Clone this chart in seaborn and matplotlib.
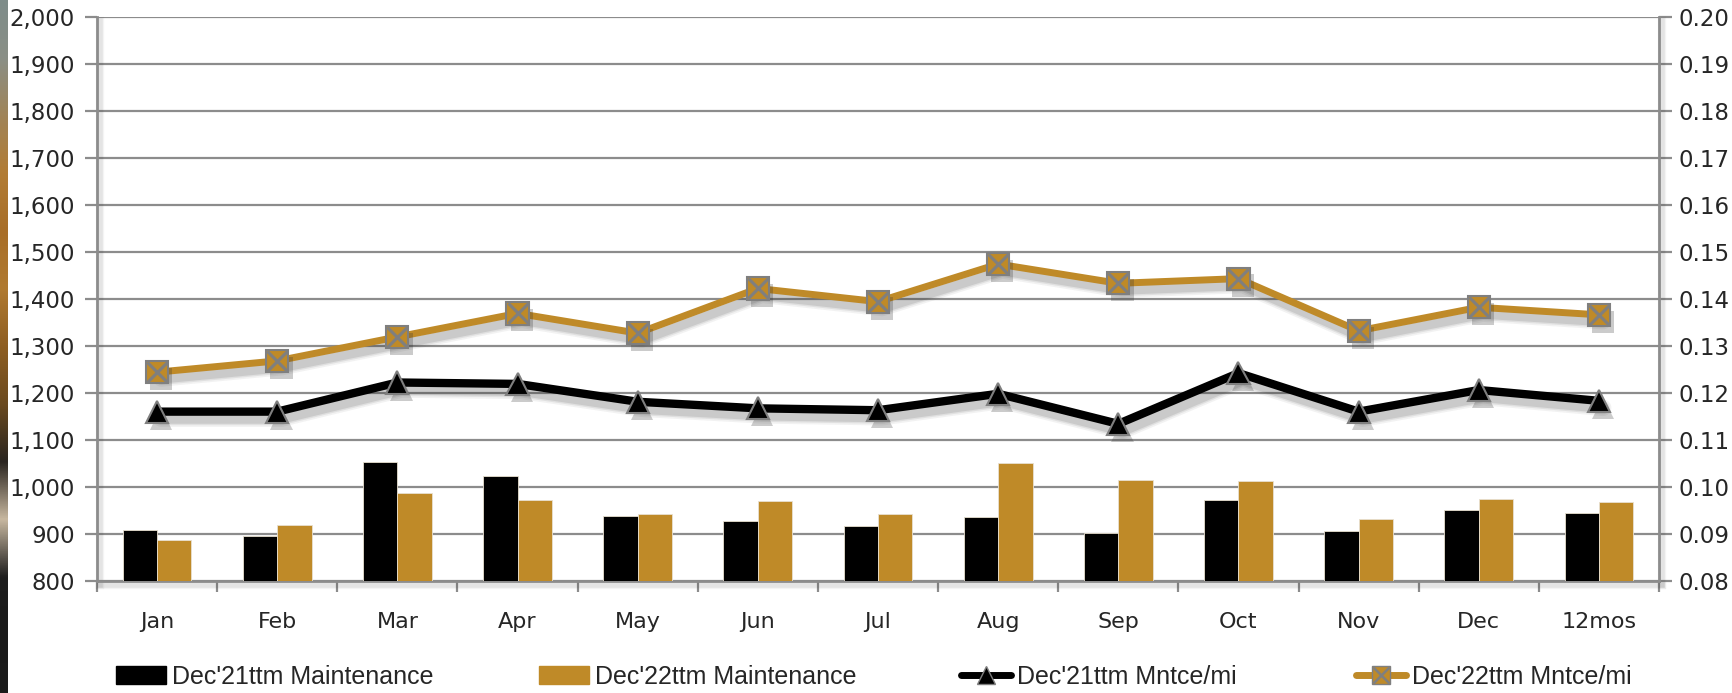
import numpy as np
import pandas as pd
import matplotlib
matplotlib.use("Agg")
import matplotlib.pyplot as plt
import matplotlib.patheffects as pe
from matplotlib.lines import Line2D
from matplotlib.patches import Patch
from matplotlib.legend_handler import HandlerTuple
from matplotlib.ticker import FixedLocator, FuncFormatter
import seaborn as sns

# ---- data -------------------------------------------------------------
months = ["Jan", "Feb", "Mar", "Apr", "May", "Jun", "Jul",
          "Aug", "Sep", "Oct", "Nov", "Dec", "12mos"]
maint_21 = [910, 897, 1054, 1025, 939, 928, 917, 936, 903, 972, 906, 952, 945]
maint_22 = [887, 920, 988, 974, 944, 971, 944, 1051, 1015, 1013, 932, 976, 968]
per_mi_21 = [0.1161, 0.1161, 0.1223, 0.1220, 0.1182, 0.1168, 0.1164,
             0.1199, 0.1135, 0.1243, 0.1161, 0.1207, 0.1184]
per_mi_22 = [0.1245, 0.1269, 0.1320, 0.1370, 0.1328, 0.1423, 0.1395,
             0.1475, 0.1434, 0.1444, 0.1333, 0.1383, 0.1367]
series_labels = ["Dec'21ttm Maintenance", "Dec'22ttm Maintenance",
                 "Dec'21ttm Mntce/mi", "Dec'22ttm Mntce/mi"]
left_ticks = list(range(800, 2001, 100))
right_ticks = [0.08 + 0.01 * i for i in range(13)]

BLACK = "#000000"
GOLD = "#BF8A28"
GRID = "#8C8C8C"
MARK_EDGE = "#7F7F7F"

sns.set_theme(style="white")
plt.rcParams["font.family"] = ["DejaVu Sans"]

fig = plt.figure(figsize=(17.32, 6.93), dpi=100)
fig.patch.set_facecolor("white")

# narrow photographic strip along the left edge
strip = fig.add_axes([0, 0, 7 / 1732, 1])
strip_cols = ["#7E8C8A", "#8A8F86", "#A08458", "#B27C34", "#A86E28",
              "#B07A30", "#8E5E22", "#6A4A20", "#2A2520", "#C8B8A0",
              "#1E1E1E", "#1A1A1A", "#1C1C1C"]
strip_rgb = np.array([matplotlib.colors.to_rgb(c) for c in strip_cols])
ys = np.linspace(0, len(strip_cols) - 1, 400)
grad = np.stack([np.interp(ys, np.arange(len(strip_cols)), strip_rgb[:, k]) for k in range(3)], axis=1)
strip.imshow(grad[:, None, :], aspect="auto", extent=(0, 1, 1, 0))
strip.set_axis_off()

ax = fig.add_axes([97 / 1732, 1 - 581.3 / 693, (1659 - 97) / 1732, (581.3 - 17.3) / 693])

df = pd.DataFrame({
    "month": months * 2,
    "value": maint_21 + maint_22,
    "series": [series_labels[0]] * len(months) + [series_labels[1]] * len(months),
})
sns.barplot(data=df, x="month", y="value", hue="series", order=months,
            palette=[BLACK, GOLD], width=0.572, gap=0, saturation=1,
            edgecolor="#E8E0D0", linewidth=0.6, ax=ax, legend=False, zorder=3)

ax.set_xlim(-0.5, len(months) - 0.5)
ax.set_ylim(800, 2000)
ax.yaxis.set_major_locator(FixedLocator(left_ticks))
ax.yaxis.set_major_formatter(FuncFormatter(lambda v, _: f"{int(v):,}"))
ax.set_xlabel("")
ax.set_ylabel("")
ax.grid(axis="y", color=GRID, linewidth=1.6, zorder=0)
ax.set_axisbelow(True)


def soft_shadow(dx, dy, base_lw, color="#303030", layers=((6, 0.06), (3.5, 0.09), (1.5, 0.12))):
    """Stack of widened, faint offset strokes giving a blurred drop shadow."""
    effects = [pe.SimpleLineShadow(offset=(dx, dy), shadow_color=color, alpha=a,
                                   linewidth=base_lw + extra)
               for extra, a in layers]
    return effects + [pe.Normal()]


for side in ["left", "bottom"]:
    ax.spines[side].set_color(GRID)
    ax.spines[side].set_linewidth(2)
    ax.spines[side].set_path_effects(soft_shadow(2, -3, 2, layers=((4, 0.05), (2, 0.08))))
ax.spines["top"].set_visible(False)
ax.spines["right"].set_visible(False)

ax.tick_params(axis="y", which="major", direction="out", length=9, width=1.6,
               color=GRID, labelsize=16.5, pad=7, left=True)
ax.xaxis.set_minor_locator(FixedLocator(np.arange(-0.5, len(months), 1.0)))
ax.tick_params(axis="x", which="major", length=0, labelsize=16, pad=22)
ax.tick_params(axis="x", which="minor", direction="out", length=8, width=1.6,
               color=GRID, bottom=True)

# per-mile lines on the secondary axis
ax2 = ax.twinx()
ax2.set_ylim(0.08, 0.20)
ax2.yaxis.set_major_locator(FixedLocator(right_ticks))
ax2.yaxis.set_major_formatter(FuncFormatter(lambda v, _: f"{v:.2f}"))
ax2.tick_params(axis="y", direction="out", length=9, width=1.6, color=GRID,
                labelsize=16.5, pad=5, right=True)
ax2.spines["right"].set_color(GRID)
ax2.spines["right"].set_linewidth(2)
ax2.spines["right"].set_path_effects(soft_shadow(2, -3, 2, layers=((4, 0.05), (2, 0.08))))
for side in ["left", "top", "bottom"]:
    ax2.spines[side].set_visible(False)
ax2.grid(False)

pos = np.arange(len(months))
sns.lineplot(x=pos, y=per_mi_21, ax=ax2, color=BLACK, linewidth=6, zorder=5,
             path_effects=soft_shadow(3, -5, 6))
sns.lineplot(x=pos, y=per_mi_22, ax=ax2, color=GOLD, linewidth=5, zorder=6,
             path_effects=soft_shadow(3, -5, 5))
marker_shadow = [pe.SimplePatchShadow(offset=(3, -5), shadow_rgbFace="#303030", alpha=0.25),
                 pe.Normal()]
ax2.plot(pos, per_mi_21, linestyle="none", marker="^", markersize=16,
         markerfacecolor=BLACK, markeredgecolor=MARK_EDGE, markeredgewidth=1.5,
         zorder=7, path_effects=marker_shadow)
ax2.plot(pos, per_mi_22, linestyle="none", marker="s", markersize=16,
         markerfacecolor=GOLD, markeredgecolor=MARK_EDGE, markeredgewidth=1.5,
         zorder=8, path_effects=marker_shadow)
ax2.plot(pos, per_mi_22, linestyle="none", marker="x", markersize=14,
         markeredgecolor=MARK_EDGE, markeredgewidth=2.2, zorder=9)
ax2.set_ylabel("")

# legend along the bottom
h_bar21 = Patch(facecolor=BLACK, edgecolor=BLACK)
h_bar22 = Patch(facecolor=GOLD, edgecolor=GOLD)
h_line21 = Line2D([], [], color=BLACK, linewidth=5, marker="^", markersize=13,
                  markerfacecolor=BLACK, markeredgecolor=MARK_EDGE)
h_line22 = (Line2D([], [], color=GOLD, linewidth=5, marker="s", markersize=13,
                   markerfacecolor=GOLD, markeredgecolor=MARK_EDGE),
            Line2D([], [], linestyle="none", marker="x", markersize=12,
                   markeredgecolor=MARK_EDGE, markeredgewidth=1.8))
handles = [h_bar21, h_bar22, h_line21, h_line22]
starts = [116, 539, 961, 1356]
for h, lab, x0 in zip(handles, series_labels, starts):
    fig.legend([h], [lab], loc="center left", bbox_to_anchor=(x0 / 1732, 1 - 677 / 693),
               frameon=False, borderpad=0, borderaxespad=0, handlelength=2.0,
               handleheight=0.75, handletextpad=0.25,
               prop={"family": "Liberation Sans", "size": 18},
               handler_map={tuple: HandlerTuple(ndivide=1)})

fig.savefig("out.png", dpi=100, facecolor="white")
